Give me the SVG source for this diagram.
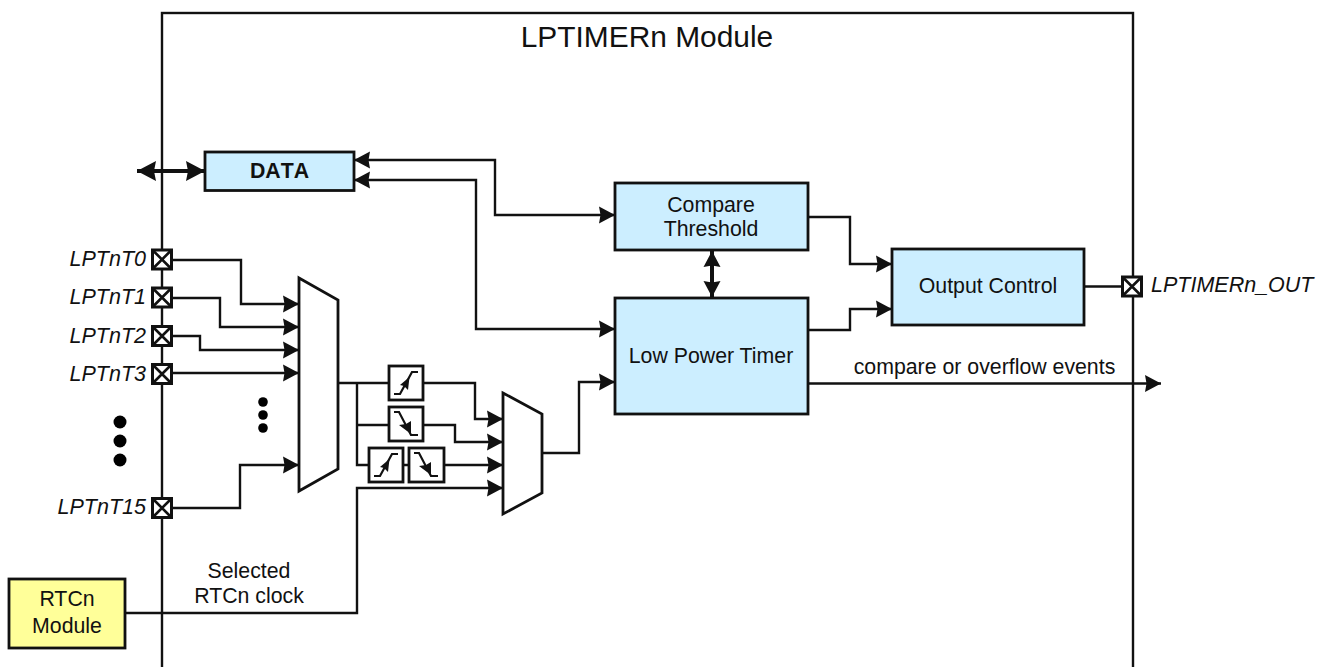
<svg xmlns="http://www.w3.org/2000/svg" width="1325" height="667" viewBox="0 0 1325 667">
<style>
text{font-family:"Liberation Sans",Arial,sans-serif;font-size:21.3px;fill:#111;text-anchor:middle}
.i{font-style:italic;font-size:21.5px;text-anchor:end}
.s{text-anchor:start}
.b{fill:#cceeff;stroke:#111;stroke-width:2.8}
.y{fill:#ffff99;stroke:#111;stroke-width:2.8}
.m{fill:#fff;stroke:#111;stroke-width:2.8;stroke-linejoin:miter}
.e{fill:#fff;stroke:#111;stroke-width:2.8}
.c{fill:none;stroke:#111;stroke-width:2.4;stroke-linejoin:miter}
.a{marker-end:url(#ah)}
.t{stroke-width:4}
.p{fill:#fff;stroke:#111;stroke-width:3}
.x{stroke:#111;stroke-width:2.6;fill:none}
.g{fill:none;stroke:#111;stroke-width:2.2}
</style>
<defs>
<marker id="ah" markerUnits="userSpaceOnUse" markerWidth="18" markerHeight="20" refX="16" refY="10" orient="auto"><path d="M0 1.500L16 10L0 18.500L1.500 10Z" fill="#111"/></marker>
<marker id="as" markerUnits="userSpaceOnUse" markerWidth="18" markerHeight="20" refX="16" refY="10" orient="auto-start-reverse"><path d="M0 1.500L16 10L0 18.500L1.500 10Z" fill="#111"/></marker>
<marker id="al" markerUnits="userSpaceOnUse" markerWidth="20" markerHeight="22" refX="19" refY="11" orient="auto-start-reverse"><path d="M0 1L19 11L0 21L2 11Z" fill="#111"/></marker>
<g id="pad"><rect class="p" x="-9.500" y="-9.500" width="19" height="19"/><path class="x" d="M-8.500-8.500L8.500 8.500M8.500-8.500L-8.500 8.500"/></g>
<g id="rise"><path class="g" d="M-12 11H-6L6-11H12"/><path d="M3.500-6L-6 2L-2 3L2 7Z" fill="#111"/></g>
<g id="fall"><path class="g" d="M-12-12H-7L5 11H12"/><path d="M-7 1L0 0L5-3L5 10Z" fill="#111"/></g>
</defs>

<g id="module"><rect x="162" y="13" width="971" height="660" fill="#fff" stroke="#111" stroke-width="2.4"/><text x="647" y="47" style="font-size:29.9px">LPTIMERn Module</text></g>

<g id="connectors">
<path class="c t" d="M137 171H205" marker-start="url(#al)" marker-end="url(#al)"/>
<path class="c" d="M354 160H495V215H615" marker-start="url(#as)" marker-end="url(#as)"/>
<path class="c" d="M354 180H476V329H615" marker-start="url(#as)" marker-end="url(#as)"/>
<path class="c t" d="M712 251V297" marker-start="url(#as)" marker-end="url(#as)"/>
<path class="c a" d="M808 217H850V264H892"/>
<path class="c a" d="M808 330H850V309H892"/>
<path class="c a" d="M808 383.500H1161"/>
<path class="c" d="M1084 286.500H1122"/>
<path class="c a" d="M172 260H241V304H299"/>
<path class="c a" d="M172 298H220V327H299"/>
<path class="c a" d="M172 336H200V350H299"/>
<path class="c a" d="M172 373H299"/>
<path class="c a" d="M172 508H240V465H299"/>
<path class="c" d="M338 383H389M357 383V465H369M357 425H389M403 465H409"/>
<path class="c a" d="M423 383H475V419H503"/>
<path class="c a" d="M423 425H455V442H503"/>
<path class="c a" d="M444 465H503"/>
<path class="c a" d="M125 613H357V488H503"/>
<path class="c a" d="M542 453H579V382H615"/>
</g>

<g id="data"><rect class="b" x="205" y="152" width="149" height="38.500"/><text x="279.500" y="178" style="font-weight:bold;font-kerning:none">DATA</text></g>
<g id="compare"><rect class="b" x="615" y="183" width="193" height="67"/><text x="711" y="212">Compare</text><text x="711" y="236">Threshold</text></g>
<g id="timer"><rect class="b" x="615" y="298" width="193" height="116"/><text x="711" y="363">Low Power Timer</text></g>
<g id="output"><rect class="b" x="892" y="249" width="192" height="76"/><text x="988" y="293">Output Control</text></g>
<g id="rtc"><rect class="y" x="9" y="579" width="116" height="69"/><text x="67" y="606">RTCn</text><text x="67" y="633">Module</text></g>
<g id="mux1"><path class="m" d="M299 278L338 300V469L299 491Z"/></g>
<g id="mux2"><path class="m" d="M503 393L542 414V493L503 514Z"/></g>
<g id="edge-rise"><rect class="e" x="389" y="366" width="34" height="34"/><use href="#rise" x="406" y="383"/></g>
<g id="edge-fall"><rect class="e" x="389" y="407" width="34" height="34"/><use href="#fall" x="406" y="424"/></g>
<g id="edge-both-rise"><rect class="e" x="369" y="448" width="34" height="34"/><use href="#rise" x="386" y="465"/></g>
<g id="edge-both-fall"><rect class="e" x="409" y="448" width="35" height="34"/><use href="#fall" x="426" y="465"/></g>

<g id="pad0"><use href="#pad" x="162" y="259.500"/><text class="i" x="146" y="266">LPTnT0</text></g>
<g id="pad1"><use href="#pad" x="162" y="297.500"/><text class="i" x="146" y="304">LPTnT1</text></g>
<g id="pad2"><use href="#pad" x="162" y="336"/><text class="i" x="146" y="343">LPTnT2</text></g>
<g id="pad3"><use href="#pad" x="162" y="374"/><text class="i" x="146" y="381">LPTnT3</text></g>
<g id="pad15"><use href="#pad" x="162" y="508"/><text class="i" x="146" y="514">LPTnT15</text></g>
<g id="padout"><use href="#pad" x="1132" y="286.500"/><text class="i s" x="1151" y="292">LPTIMERn_OUT</text></g>

<g id="dots"><circle cx="120" cy="422" r="6.500" fill="#000"/><circle cx="120" cy="441" r="6.500" fill="#000"/><circle cx="120" cy="460" r="6.500" fill="#000"/><circle cx="263" cy="402" r="4.800" fill="#000"/><circle cx="263" cy="415" r="4.800" fill="#000"/><circle cx="263" cy="428" r="4.800" fill="#000"/></g>
<g id="labels"><text x="249" y="578">Selected</text><text x="249" y="603">RTCn clock</text><text x="984.500" y="374">compare or overflow events</text></g>
</svg>
